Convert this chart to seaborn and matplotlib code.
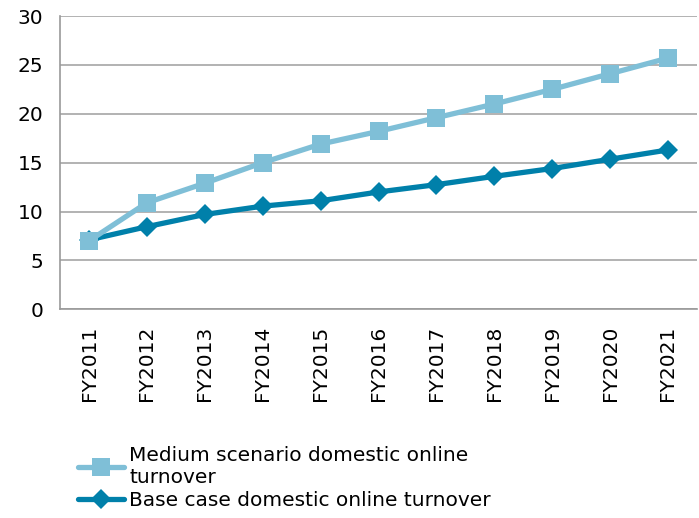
import pandas as pd
import seaborn as sns
import matplotlib
matplotlib.use('Agg')
import matplotlib.pyplot as plt

years = ['FY2011', 'FY2012', 'FY2013', 'FY2014', 'FY2015', 'FY2016',
         'FY2017', 'FY2018', 'FY2019', 'FY2020', 'FY2021']
medium = [7.0, 10.9, 12.9, 15.0, 16.9, 18.2, 19.6, 21.0, 22.5, 24.1, 25.7]
base = [7.1, 8.45, 9.7, 10.55, 11.1, 12.0, 12.75, 13.6, 14.4, 15.35, 16.3]

medium_label = 'Medium scenario domestic online\nturnover'
base_label = 'Base case domestic online turnover'

df = pd.DataFrame({'Year': years * 2,
                   'Value': medium + base,
                   'Series': [medium_label] * len(years) + [base_label] * len(years)})

sns.set_style('white')
plt.rcParams['font.family'] = ['DejaVu Sans']
plt.rcParams['text.color'] = 'black'
plt.rcParams['xtick.labelcolor'] = 'black'
plt.rcParams['ytick.labelcolor'] = 'black'

fig, ax = plt.subplots(figsize=(6.99, 5.18), dpi=100)
fig.subplots_adjust(left=0.086, right=0.997, top=0.969, bottom=0.403)

colors = {medium_label: '#7fbfd7', base_label: '#0080aa'}
markers = {medium_label: 's', base_label: 'D'}
sizes = {medium_label: 13, base_label: 10}
zorders = {medium_label: 4, base_label: 3}

for name in [medium_label, base_label]:
  sub = df[df.Series == name]
  sns.lineplot(data=sub, x='Year', y='Value', ax=ax, color=colors[name],
               marker=markers[name], markersize=sizes[name],
               markeredgewidth=0, linewidth=3.8, label=name, sort=False,
               zorder=zorders[name])

fs = 14.5
ax.set_ylim(0, 30)
ax.set_yticks(range(0, 31, 5))
ax.set_xlim(-0.5, 10.45)
ax.set_xticks([i + 0.5 for i in range(-1, 11)], minor=False)
ax.set_xticklabels([])
ax.set_xticks(range(len(years)), minor=True)
ax.set_xticklabels(years, minor=True, rotation=90, fontsize=fs)
ax.tick_params(axis='x', which='minor', length=0, pad=12)
ax.tick_params(axis='x', which='major', length=6, color='#999999', width=1.2, direction='out')
ax.tick_params(axis='y', length=6, color='#999999', width=1.2, direction='out', labelsize=fs, pad=6)

ax.yaxis.grid(True, color='#a6a6a6', linewidth=1.2)
ax.set_axisbelow(True)
for s in ['top', 'right']:
  ax.spines[s].set_visible(False)
for s in ['left', 'bottom']:
  ax.spines[s].set_color('#999999')
  ax.spines[s].set_linewidth(1.2)

ax.set_xlabel('')
ax.set_ylabel('')

ax.legend(loc='upper left', bbox_to_anchor=(78 / 699, 1 - 446 / 518),
          bbox_transform=fig.transFigure, frameon=False,
          fontsize=fs, handlelength=2.3, handletextpad=0.25,
          labelspacing=0.2, borderaxespad=0, borderpad=0)

fig.savefig('out.png', dpi=100)
